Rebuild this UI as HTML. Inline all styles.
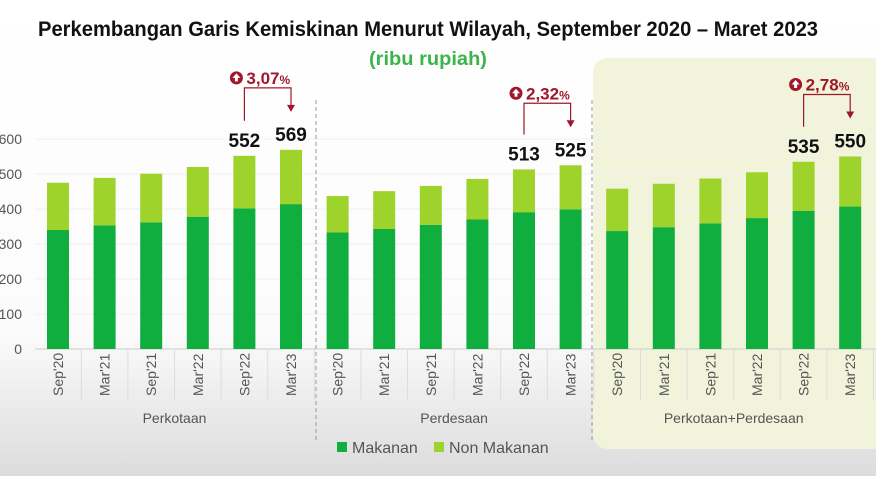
<!DOCTYPE html>
<html><head><meta charset="utf-8"><style>
html,body{margin:0;padding:0;}
body{width:876px;height:476px;overflow:hidden;font-family:"Liberation Sans",sans-serif;}
</style></head><body>
<svg id="chart" width="876" height="476" viewBox="0 0 876 476" xmlns="http://www.w3.org/2000/svg">
<defs>
<linearGradient id="bg" x1="0" y1="0" x2="0" y2="1">
<stop offset="0" stop-color="#ffffff"/><stop offset="0.7" stop-color="#fbfbfb"/><stop offset="1" stop-color="#dcdcdc"/>
</linearGradient>
</defs>
<rect width="876" height="476" fill="url(#bg)"/>
<rect x="593" y="58" width="300" height="391" rx="14" fill="#f1f3da"/>
<text x="428" y="36" text-anchor="middle" font-size="21" font-weight="bold" fill="#111" textLength="780" lengthAdjust="spacingAndGlyphs">Perkembangan Garis Kemiskinan Menurut Wilayah, September 2020 – Maret 2023</text>
<text x="428" y="65" text-anchor="middle" font-size="19" font-weight="bold" fill="#3cb44b" textLength="118" lengthAdjust="spacingAndGlyphs">(ribu rupiah)</text>
<g id="grid"></g><g id="bars"></g><g id="labels"></g>
<line x1="316" y1="100" x2="316" y2="440" stroke="#999" stroke-dasharray="4,3"/>
<line x1="592" y1="100" x2="592" y2="440" stroke="#999" stroke-dasharray="4,3"/>
<g>
<rect x="337" y="442" width="10" height="10" fill="#0fae3f"/>
<text x="352" y="453" font-size="16" fill="#555">Makanan</text>
<rect x="434" y="442" width="10" height="10" fill="#9dd32a"/>
<text x="449" y="453" font-size="16" fill="#555">Non Makanan</text>
</g>
</svg>
<script>
const categories = ["Sep'20","Mar'21","Sep'21","Mar'22","Sep'22","Mar'23","Sep'20","Mar'21","Sep'21","Mar'22","Sep'22","Mar'23","Sep'20","Mar'21","Sep'21","Mar'22","Sep'22","Mar'23"];
const groups = ["Perkotaan","Perdesaan","Perkotaan+Perdesaan"];
const makanan = [340,353,362,378,402,414, 333,343,355,370,391,399, 337,348,359,374,395,407];
const totals = [475,489,501,520,552,569, 437,451,466,486,513,525, 458,472,487,505,535,550];
const yTicks = [0,100,200,300,400,500,600];
const shownTotals = [4,5,10,11,16,17];
const changes = ["3,07","2,32","2,78"];

const NS="http://www.w3.org/2000/svg";
const y0=349, pxPer=0.35;
function yScale(v){return y0 - v*pxPer;}
function xCenter(i){return 58 + i*46.6;}
function mk(tag,attrs,parent,txt){const e=document.createElementNS(NS,tag);for(const k in attrs)e.setAttribute(k,attrs[k]);if(txt!==undefined)e.textContent=txt;parent.appendChild(e);return e;}
const grid=document.getElementById('grid'), bars=document.getElementById('bars'), labels=document.getElementById('labels');
yTicks.forEach(t=>{
  const l=mk('line',{x1:35,x2:876,y1:yScale(t),y2:yScale(t),stroke:t===0?'#ccc':'#f0f0f0','stroke-width':1},grid);
  
  
  const tx=mk('text',{x:22,y:yScale(t)+5,'text-anchor':'end','font-size':14,fill:'#555'},grid,String(t));
  
  
});
categories.forEach((c,i)=>{
  const cx=xCenter(i), w=22;
  const r1=mk('rect',{x:cx-w/2,y:yScale(makanan[i]),width:w,height:y0-yScale(makanan[i]),fill:'#0fae3f'},bars);
  
  
  const r2=mk('rect',{x:cx-w/2,y:yScale(totals[i]),width:w,height:yScale(makanan[i])-yScale(totals[i]),fill:'#9dd32a'},bars);
  
  
  const sep=mk('line',{x1:cx+23.3,x2:cx+23.3,y1:y0,y2:400,stroke:'#ddd'},grid);
  
  
  const tl=mk('text',{transform:`translate(${cx+5},${396}) rotate(-90)`,'font-size':14,fill:'#555'},labels,c);
  
  
});
groups.forEach((g,k)=>{
  const cx=(xCenter(k*6)+xCenter(k*6+5))/2;
  const t=mk('text',{x:cx,y:423,'text-anchor':'middle','font-size':14,fill:'#555'},labels,g);
  
  
});
shownTotals.forEach(i=>{
  const t=mk('text',{x:xCenter(i),y:yScale(totals[i])-9,'text-anchor':'middle','font-size':19,'font-weight':'bold',fill:'#111'},labels,String(totals[i]));
  
  
});
changes.forEach((c,k)=>{
  const a=k*6+4,b=k*6+5, xa=xCenter(a), xb=xCenter(b);
  const ya=yScale(totals[a])-35, yb=yScale(totals[b])-38;
  const top=yScale(totals[b])-62;
  const p=mk('path',{d:`M${xa} ${ya} V${top} H${xb} V${yb-6}`,fill:'none',stroke:'#a0162b','stroke-width':1.2},labels);
  
  
  const ar=mk('polygon',{points:`${xb-4},${yb-7} ${xb+4},${yb-7} ${xb},${yb}`,fill:'#a0162b'},labels);
  
  
  const ic=mk('circle',{cx:xa-8,cy:top-10,r:6.5,fill:'#a0162b'},labels);
  
  
  const ix=xa-8, iy=top-10;
  const it=mk('polygon',{points:`${ix},${iy-4.5} ${ix+4},${iy} ${ix+1.5},${iy} ${ix+1.5},${iy+3.5} ${ix-1.5},${iy+3.5} ${ix-1.5},${iy} ${ix-4},${iy}`,fill:'#fff'},labels);
  
  
  const t=mk('text',{x:xa+2,y:top-4,'font-size':17,'font-weight':'bold',fill:'#a0162b'},labels);
  
  
  t.textContent=c;
  mk('tspan',{'font-size':12},t,'%');
});
</script>
</body></html>
